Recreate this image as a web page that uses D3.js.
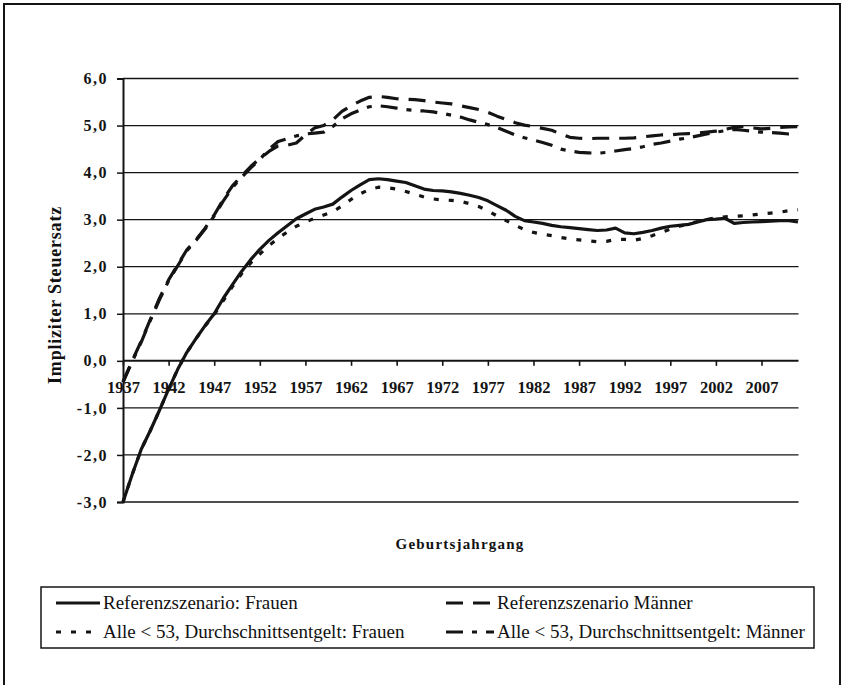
<!DOCTYPE html>
<html>
<head>
<meta charset="utf-8">
<script src="https://cdn.jsdelivr.net/npm/d3@7"></script>
<style>
  body { margin: 0; background: #fff; }
  svg text { font-family: "Liberation Serif", "Times New Roman", serif; fill: #111; }
</style>
</head>
<body>
<svg id="chart" width="843" height="685"></svg>
<script>
// categories: birth cohorts
var years = d3.range(1937, 2012);

var refFrauen = [
  -3.0, -2.42, -1.88, -1.48, -1.05, -0.6, -0.18, 0.18, 0.47, 0.75,
  1.0, 1.33, 1.62, 1.9, 2.15, 2.37, 2.56, 2.72, 2.87, 3.02,
  3.12, 3.22, 3.27, 3.33, 3.48, 3.62, 3.74, 3.85, 3.87, 3.85,
  3.82, 3.79, 3.72, 3.65, 3.62, 3.61, 3.59, 3.56, 3.52, 3.47,
  3.4, 3.3, 3.2, 3.07, 2.98, 2.95, 2.92, 2.88, 2.85, 2.83,
  2.81, 2.79, 2.77, 2.78, 2.82, 2.72, 2.7, 2.73, 2.77, 2.82,
  2.86, 2.88, 2.9, 2.95, 3.0, 3.01, 3.03, 2.92, 2.94, 2.95,
  2.96, 2.97, 2.98, 2.98, 2.95
];
var refMaenner = [
  -0.45, 0.0, 0.42, 0.88, 1.33, 1.72, 2.04, 2.36, 2.57, 2.82,
  3.1, 3.43, 3.72, 3.93, 4.13, 4.3, 4.45, 4.57, 4.58, 4.63,
  4.8, 4.95, 5.0, 5.12, 5.3, 5.42, 5.52, 5.6, 5.62, 5.6,
  5.57, 5.56, 5.55, 5.53, 5.5, 5.48, 5.46, 5.42, 5.38, 5.34,
  5.28, 5.2, 5.13, 5.06, 5.01, 4.98, 4.94, 4.9, 4.82, 4.75,
  4.73, 4.72, 4.73, 4.73, 4.73, 4.73, 4.74, 4.76, 4.78, 4.8,
  4.8, 4.82, 4.83, 4.84, 4.86, 4.88, 4.92, 4.96, 4.98, 4.95,
  4.93, 4.94, 4.96, 4.97, 4.98
];
var alleFrauen = [
  -3.0, -2.42, -1.88, -1.48, -1.05, -0.6, -0.18, 0.18, 0.47, 0.74,
  0.98, 1.28, 1.58, 1.85, 2.08, 2.27, 2.45, 2.6, 2.74, 2.86,
  2.95, 3.03, 3.1, 3.17, 3.29, 3.43, 3.55, 3.64, 3.69, 3.68,
  3.65, 3.6, 3.54, 3.48, 3.44, 3.42, 3.41, 3.39, 3.34, 3.28,
  3.19, 3.08, 2.98, 2.88, 2.79, 2.73, 2.69, 2.66, 2.62, 2.59,
  2.57, 2.55, 2.53, 2.54, 2.58, 2.58, 2.56, 2.6, 2.66, 2.73,
  2.8, 2.86, 2.91, 2.96, 3.0, 3.04, 3.06, 3.07, 3.08, 3.1,
  3.12, 3.14, 3.16, 3.19, 3.21
];
var alleMaenner = [
  -0.45, -0.02, 0.4, 0.86, 1.3, 1.7, 2.02, 2.34, 2.56, 2.8,
  3.08, 3.4, 3.68, 3.9, 4.1, 4.28, 4.5, 4.66, 4.72, 4.78,
  4.82, 4.84, 4.86, 4.98, 5.14, 5.25, 5.33, 5.4, 5.42, 5.4,
  5.37, 5.34, 5.32, 5.31, 5.29, 5.26, 5.22, 5.18, 5.12, 5.07,
  5.02, 4.96, 4.88, 4.8, 4.74, 4.69, 4.64, 4.58, 4.5, 4.46,
  4.43, 4.42, 4.41, 4.43, 4.46, 4.49, 4.51, 4.55, 4.6, 4.63,
  4.67, 4.71, 4.74, 4.78, 4.82, 4.86, 4.89, 4.92, 4.9, 4.88,
  4.86, 4.85, 4.84, 4.82, 4.83
];

var xTicks = [1937, 1942, 1947, 1952, 1957, 1962, 1967, 1972, 1977, 1982, 1987, 1992, 1997, 2002, 2007];
var yTicks = [-3, -2, -1, 0, 1, 2, 3, 4, 5, 6];

var seriesNames = [
  "Referenzszenario: Frauen",
  "Referenzszenario Männer",
  "Alle < 53, Durchschnittsentgelt: Frauen",
  "Alle < 53, Durchschnittsentgelt: Männer"
];

var svg = d3.select("#chart");
var ink = "#141414";

// outer frame
svg.append("rect")
  .attr("x", 4).attr("y", 4).attr("width", 836).attr("height", 700)
  .attr("fill", "none").attr("stroke", ink).attr("stroke-width", 2);

var x = d3.scaleLinear().domain([1937, 2011]).range([123, 798]);
var xEnd = 798.5;
var y = d3.scaleLinear().domain([-3, 6]).range([502, 78.5]);

// gridlines
svg.append("g").selectAll("line").data(yTicks).enter().append("line")
  .attr("x1", x(1937)).attr("x2", xEnd)
  .attr("y1", function(d){ return y(d); })
  .attr("y2", function(d){ return y(d); })
  .attr("stroke", ink)
  .attr("stroke-width", function(d){ return d === 0 ? 2 : 1.3; });

// y axis
var yAxis = d3.axisLeft(y).tickValues(yTicks)
  .tickFormat(function(d){ return d3.format(".1f")(d).replace(".", ",").replace("\u2212", "-"); })
  .tickSize(6).tickPadding(9);
var gy = svg.append("g").attr("transform", "translate(" + x(1937) + ",0)").call(yAxis);
gy.select(".domain").attr("stroke", ink).attr("stroke-width", 2);
gy.selectAll(".tick line").attr("stroke", ink).attr("stroke-width", 1.5);
gy.selectAll(".tick text")
  .attr("font-size", 16).attr("font-weight", "bold")
  .attr("letter-spacing", 1.5)
  .style("font-family", '"Liberation Serif", serif').style("fill", ink);

// x axis on the zero line
var xAxis = d3.axisBottom(x).tickValues(xTicks)
  .tickFormat(function(d){ return String(d); })
  .tickSize(5).tickPadding(15).tickSizeOuter(0);
var gx = svg.append("g").attr("transform", "translate(0," + y(0) + ")").call(xAxis);
gx.select(".domain").remove();
gx.selectAll(".tick line").attr("stroke", ink).attr("stroke-width", 1.6);
gx.selectAll(".tick text")
  .attr("font-size", 16.5).attr("font-weight", "bold")
  .style("font-family", '"Liberation Serif", serif').style("fill", ink);

// axis titles
svg.append("text")
  .attr("transform", "translate(61,295) rotate(-90)")
  .attr("text-anchor", "middle")
  .attr("font-size", 18).attr("font-weight", "bold").attr("letter-spacing", 0.8)
  .text("Impliziter Steuersatz");

svg.append("text")
  .attr("x", 460).attr("y", 549)
  .attr("text-anchor", "middle")
  .attr("font-size", 15).attr("font-weight", "bold").attr("letter-spacing", 1.2)
  .text("Geburtsjahrgang");

// lines
var styles = [
  { values: refFrauen, dash: null },
  { values: refMaenner, dash: "17,10" },
  { values: alleFrauen, dash: "5,10" },
  { values: alleMaenner, dash: "17,9,5,9" }
];

var line = d3.line()
  .x(function(d){ return x(d[0]); })
  .y(function(d){ return y(d[1]); })
  .curve(d3.curveLinear);

styles.forEach(function(s){
  var pts = years.map(function(yr, i){ return [yr, s.values[i]]; });
  svg.append("path")
    .datum(pts)
    .attr("d", line)
    .attr("fill", "none")
    .attr("stroke", ink)
    .attr("stroke-width", 3.2)
    .attr("stroke-linejoin", "round")
    .attr("stroke-dasharray", s.dash);
});

// legend
var lg = svg.append("g");
lg.append("rect")
  .attr("x", 41).attr("y", 587).attr("width", 773).attr("height", 61)
  .attr("fill", "#fff").attr("stroke", ink).attr("stroke-width", 1.5);

var legendPos = [
  { sx: 56, tx: 103, y: 603 },
  { sx: 446, tx: 497, y: 603 },
  { sx: 56, tx: 103, y: 632 },
  { sx: 446, tx: 497, y: 632 }
];

seriesNames.forEach(function(name, i){
  var p = legendPos[i];
  lg.append("line")
    .attr("x1", p.sx).attr("x2", p.tx - 3)
    .attr("y1", p.y).attr("y2", p.y)
    .attr("stroke", ink).attr("stroke-width", 3.2)
    .attr("stroke-dasharray", styles[i].dash);
  lg.append("text")
    .attr("x", p.tx).attr("y", p.y + 6)
    .attr("font-size", 19)
    .text(name);
});
</script>
</body>
</html>
